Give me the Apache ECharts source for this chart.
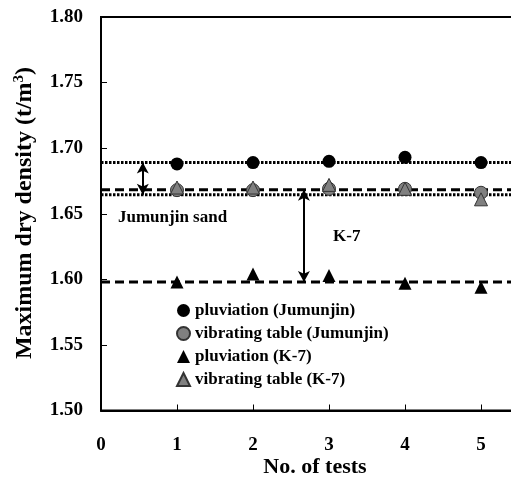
<!DOCTYPE html>
<html>
<head>
<meta charset="utf-8">
<script src="https://cdn.jsdelivr.net/npm/echarts@6/dist/echarts.min.js"></script>
<style>html,body{margin:0;padding:0;background:#fff}#c{width:511px;height:478px}</style>
</head>
<body>
<div id="c"></div>
<script>
var tests = [1, 2, 3, 4, 5];
var pluvJ = [1.688, 1.689, 1.690, 1.693, 1.689];
var vibJ  = [1.668, 1.668, 1.669, 1.669, 1.666];
var pluvK = [1.598, 1.604, 1.603, 1.597, 1.594];
var vibK  = [1.670, 1.670, 1.672, 1.669, 1.661];
var names = ['pluviation (Jumunjin)', 'vibrating table (Jumunjin)', 'pluviation (K-7)', 'vibrating table (K-7)'];
var lineSpan = [0, 6];
var dottedLines = [1.689, 1.6645];
var dashedLines = [1.6683, 1.598];
var arrows = [[0.55, 1.689, 1.6645], [2.67, 1.6683, 1.598]];

var FONT = "'Liberation Serif','Times New Roman',serif";
function pts(v) { return tests.map(function (t, i) { return [t, v[i]]; }); }

var chart = echarts.init(document.getElementById('c'), null, {renderer: 'canvas'});

var refSeries = [];
dottedLines.forEach(function (y) {
  refSeries.push({type: 'line', silent: true, z: 1, showSymbol: false, symbol: 'none',
    data: lineSpan.map(function (x) { return [x, y]; }),
    lineStyle: {type: [2.5, 1.5], width: 3, color: '#000'}});
});
dashedLines.forEach(function (y) {
  refSeries.push({type: 'line', silent: true, z: 1, showSymbol: false, symbol: 'none',
    data: lineSpan.map(function (x) { return [x, y]; }),
    lineStyle: {type: [9, 5], width: 3, color: '#000'}});
});
var arrowData = arrows.map(function (a) {
  return [{coord: [a[0], a[1]]}, {coord: [a[0], a[2]]}];
});

var option = {
  animation: false,
  backgroundColor: '#fff',
  grid: {left: 101, top: 17, width: 456, height: 393.5, containLabel: false, outerBoundsMode: 'none',
    show: true, borderColor: '#000', borderWidth: 2, backgroundColor: 'transparent'},
  xAxis: {
    type: 'value', min: 0, max: 6, interval: 1,
    axisLine: {lineStyle: {color: '#000', width: 2}},
    axisTick: {inside: true, length: 6, lineStyle: {color: '#000', width: 1}},
    splitLine: {show: false},
    axisLabel: {color: '#000', fontFamily: FONT, fontWeight: 'bold', fontSize: 19, margin: 25}
  },
  yAxis: {
    type: 'value', min: 1.5, max: 1.8, interval: 0.05,
    axisLine: {show: true, lineStyle: {color: '#000', width: 2}},
    axisTick: {show: true, inside: true, length: 6, lineStyle: {color: '#000', width: 1}},
    splitLine: {show: false},
    axisLabel: {color: '#000', fontFamily: FONT, fontWeight: 'bold', fontSize: 19, margin: 18,
      formatter: function (v) { return v.toFixed(2); }}
  },
  legend: {
    orient: 'vertical', left: 171, top: 297, itemWidth: 13, itemHeight: 13, itemGap: 6,
    data: names,
    textStyle: {color: '#000', fontFamily: FONT, fontWeight: 'bold', fontSize: 17, lineHeight: 17}
  },
  series: refSeries.concat([
    {
      type: 'line', data: [], silent: true, z: 2,
      markLine: {silent: true, symbol: ['arrow', 'arrow'], symbolSize: [9, 11], label: {show: false}, animation: false,
        precision: 6, lineStyle: {type: 'solid', width: 2, color: '#000'}, data: arrowData}
    },
    {name: names[1], type: 'scatter', symbol: 'circle', symbolSize: 13, z: 3, data: pts(vibJ),
      itemStyle: {color: '#808080', borderColor: '#333', borderWidth: 1, opacity: 1}},
    {name: names[3], type: 'scatter', symbol: 'triangle', symbolSize: 13, z: 4, data: pts(vibK),
      itemStyle: {color: '#808080', borderColor: '#333', borderWidth: 1, opacity: 1}},
    {name: names[0], type: 'scatter', symbol: 'circle', symbolSize: 13, z: 5, data: pts(pluvJ),
      itemStyle: {color: '#000', opacity: 1}},
    {name: names[2], type: 'scatter', symbol: 'triangle', symbolSize: 13, z: 5, data: pts(pluvK),
      itemStyle: {color: '#000', opacity: 1}}
  ]),
  graphic: [
    {type: 'text', x: 315, y: 467, style: {text: 'No. of tests', fill: '#000', font: 'bold 22px ' + FONT, textAlign: 'center', textVerticalAlign: 'middle'}},
    {type: 'text', x: 25, y: 213, rotation: Math.PI / 2,
      style: {text: '{a|Maximum dry density (t/m}{s|3}{a|)}', textAlign: 'center', textVerticalAlign: 'middle', fill: '#000',
        rich: {a: {fontFamily: FONT, fontWeight: 'bold', fontSize: 24, fill: '#000', lineHeight: 26},
               s: {fontFamily: FONT, fontWeight: 'bold', fontSize: 15, fill: '#000', verticalAlign: 'top', padding: [0, 0, 13, 0], lineHeight: 26}}}},
    {type: 'text', x: 118, y: 218, style: {text: 'Jumunjin sand', fill: '#000', font: 'bold 17px ' + FONT, textAlign: 'left', textVerticalAlign: 'middle'}},
    {type: 'text', x: 333, y: 237, style: {text: 'K-7', fill: '#000', font: 'bold 17px ' + FONT, textAlign: 'left', textVerticalAlign: 'middle'}}
  ]
};
chart.setOption(option);
</script>
</body>
</html>
